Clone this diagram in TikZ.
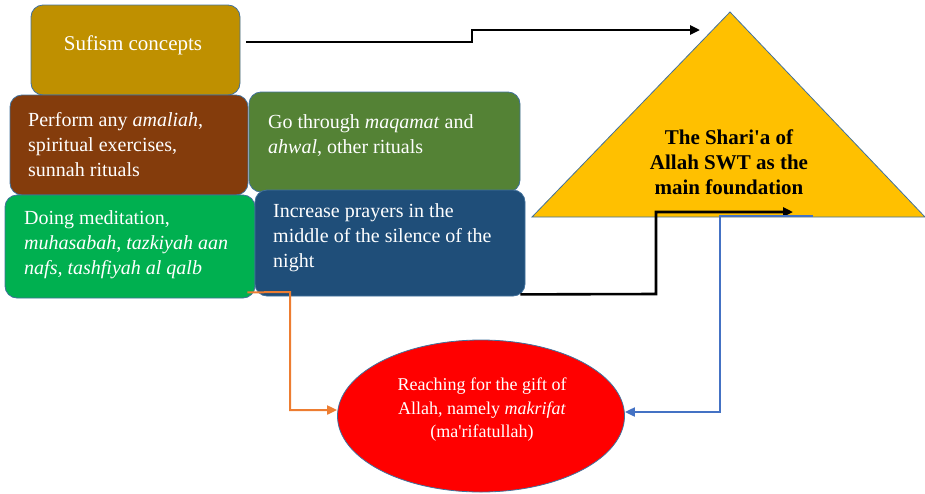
\documentclass[tikz,border=0pt]{standalone}
\usepackage{fontspec}
\setmainfont{Liberation Serif}
\usetikzlibrary{shapes.geometric,arrows.meta,calc}
\definecolor{cgold}{HTML}{BF9000}
\definecolor{cbrown}{HTML}{843C0C}
\definecolor{colive}{HTML}{548235}
\definecolor{cgreen}{HTML}{00B050}
\definecolor{cblue}{HTML}{1F4E79}
\definecolor{ctri}{HTML}{FFC000}
\definecolor{cedge}{HTML}{41719C}
\definecolor{corange}{HTML}{ED7D31}
\definecolor{cline}{HTML}{4472C4}
\tikzset{
  box/.style={draw=cedge, line width=0.8pt, rounded corners=12pt, inner sep=0pt},
  txt/.style={text=white, font=\fontsize{20}{25}\selectfont, align=left, inner sep=0pt, anchor=west},
  blk/.style={draw=black, line width=2.6pt, -{Triangle[length=10pt,width=9pt]}},
  org/.style={draw=corange, line width=2pt, -{Triangle[length=10pt,width=9pt]}},
  blu/.style={draw=cline, line width=2pt, -{Triangle[length=10pt,width=9pt]}},
}
\begin{document}
\begin{tikzpicture}[x=1pt,y=-1pt]
\useasboundingbox (0,0) rectangle (925,493);
% boxes
\node[box, fill=cgold, minimum width=209pt, minimum height=90pt] (sufi) at (135.5,50) {};
\node[box, fill=cbrown, minimum width=238pt, minimum height=100pt] (perf) at (129,145) {};
\node[box, fill=colive, minimum width=271pt, minimum height=100pt] (maq) at (384.5,142) {};
\node[box, fill=cgreen, minimum width=250pt, minimum height=103pt] (med) at (130,246.5) {};
\node[box, fill=cblue, minimum width=270pt, minimum height=106pt] (pray) at (390,243) {};
% triangle
\coordinate (apex) at (730,12);
\coordinate (tl) at (532,217);
\coordinate (tr) at (925,217);
\path[draw=cedge, line width=0.8pt, fill=ctri] (apex) -- (tr) -- (tl) -- cycle;
% ellipse
\node[ellipse, draw=cedge, line width=0.8pt, fill=red, minimum width=287pt, minimum height=152pt, inner sep=0pt] (mak) at (481,416) {};
% texts
\node[text=white, font=\fontsize{21}{25}\selectfont, inner sep=0pt] (tsufi) at (133,45) {Sufism concepts};
\node[txt] (tperf) at (28,145) {Perform any \textit{amaliah},\\spiritual exercises,\\sunnah rituals};
\node[txt] (tmaq) at (268,135.5) {Go through \textit{maqamat} and\\\textit{ahwal}, other rituals};
\node[txt] (tmed) at (24,245) {Doing meditation,\\\textit{muhasabah, tazkiyah aan}\\\textit{nafs, tashfiyah al qalb}};
\node[txt] (tpray) at (273,238) {Increase prayers in the\\middle of the silence of the\\night};
\node[font=\bfseries\fontsize{21}{25}\selectfont, align=center, inner sep=0pt] (ttri) at (729,162) {The Shari\textquotesingle a of\\Allah SWT as the\\main foundation};
\node[text=white, font=\fontsize{18}{23.5}\selectfont, align=center, inner sep=0pt] (tmak) at (482,410) {Reaching for the gift of\\Allah, namely \textit{makrifat}\\(ma\textquotesingle rifatullah)};
% connectors
\coordinate (s1) at ($(sufi.east)+(6,-8)$);
\coordinate (e1) at (700,30);
\draw[blk] (s1) -- (472,42) -- (472,30) -- (e1);
\coordinate (s2) at ($(pray.south east)+(-5,-2)$);
\coordinate (e2) at (793,212);
\draw[blk] (s2) -- (656,294) -- (656,212) -- (e2);
\coordinate (s3) at (813,216);
\draw[blu] (s3) -- (720,216) -- (720,412) -- (mak.east |- 0,412);
\coordinate (s4) at ($(med.south east)+(-8,-6)$);
\draw[org] (s4) -- (290,292) -- (290,410) -- (mak.west |- 0,410);
\end{tikzpicture}
\end{document}
